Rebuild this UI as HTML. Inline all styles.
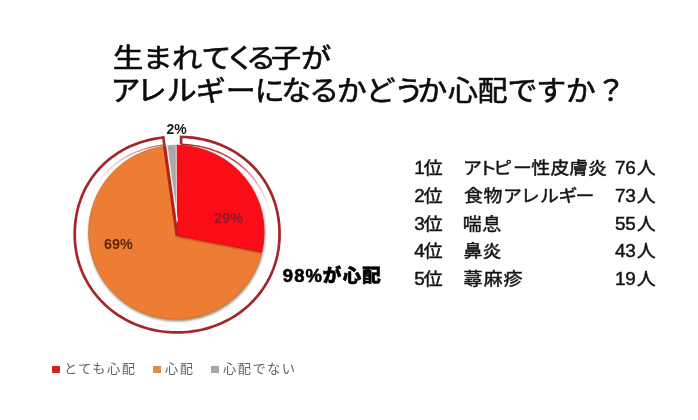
<!DOCTYPE html>
<html lang="ja">
<head>
<meta charset="utf-8">
<title>アレルギー調査</title>
<style>
html,body{margin:0;padding:0;background:#fff;}
body{width:698px;height:420px;position:relative;overflow:hidden;font-family:"Liberation Sans","Noto Sans CJK JP",sans-serif;}
.t{position:absolute;white-space:nowrap;line-height:1;margin:0;}
.lg{font-size:12.6px;color:#626262;letter-spacing:1.4px;transform:scaleX(1.05);transform-origin:0 0;}
.sq{position:absolute;width:7.5px;height:7.5px;}
svg{position:absolute;left:0;top:0;}
</style>
</head>
<body>
<svg width="698" height="420" viewBox="0 0 698 420">
  <defs>
    <linearGradient id="fadeR" gradientUnits="userSpaceOnUse" x1="181" y1="144" x2="268" y2="215">
      <stop offset="0" stop-color="#a3262b" stop-opacity="1"/>
      <stop offset="0.5" stop-color="#c02a34" stop-opacity="0.85"/>
      <stop offset="1" stop-color="#e05060" stop-opacity="0"/>
    </linearGradient>
    <linearGradient id="fadeL" gradientUnits="userSpaceOnUse" x1="164" y1="144" x2="95" y2="190">
      <stop offset="0" stop-color="#c8403a" stop-opacity="0.9"/>
      <stop offset="0.6" stop-color="#e07060" stop-opacity="0.5"/>
      <stop offset="1" stop-color="#f0a090" stop-opacity="0"/>
    </linearGradient>
    <filter id="shO" x="-10%" y="-10%" width="120%" height="120%">
      <feDropShadow dx="0.5" dy="1.7" stdDeviation="1.0" flood-color="#4a3000" flood-opacity="0.6"/>
    </filter>
    <filter id="shR" x="-10%" y="-10%" width="120%" height="120%">
      <feDropShadow dx="0.4" dy="0.8" stdDeviation="0.9" flood-color="#90000c" flood-opacity="0.6"/>
    </filter>
  </defs>
  <path d="M181.1 144.35 L184.73 144.51 L188.26 144.78 L191.73 145.14 L195.14 145.62 L198.49 146.19 L201.79 146.87 L205.05 147.65 L208.25 148.53 L211.4 149.51 L214.49 150.59 L217.53 151.77 L220.51 153.05 L223.43 154.42 L226.29 155.88 L229.08 157.44 L231.81 159.09 L234.46 160.83 L237.05 162.66 L239.55 164.57 L241.98 166.57 L244.34 168.65 L246.6 170.81 L248.79 173.05 L250.89 175.36 L252.9 177.75 L254.82 180.2 L256.64 182.73 L258.38 185.32 L260.01 187.98 L261.55 190.7 L262.99 193.48 L264.33 196.31 L265.57 199.2 L266.7 202.14 L267.73 205.14 L268.66 208.18 L269.47 211.28 L270.18 214.42 L270.78 217.61 L271.28 220.85 L271.66 224.14 L271.93 227.5 L272.1 230.96 L272.15 234.66 L272.09 237.96 L271.92 241.2 L271.63 244.41 L271.23 247.59 L270.73 250.69" fill="none" stroke="url(#fadeR)" stroke-width="1.5"/>
  <path d="M82.15 234.6 L82.21 230.9 L82.37 227.45 L82.65 224.09 L83.03 220.8 L83.53 217.56 L84.13 214.37 L84.84 211.23 L85.66 208.13 L86.58 205.09 L87.61 202.1 L88.75 199.15 L89.99 196.26 L91.33 193.43 L92.77 190.65 L94.31 187.93 L95.95 185.28 L97.69 182.69 L99.51 180.16 L101.43 177.71 L103.45 175.32 L105.55 173.01 L107.73 170.77 L110 168.62 L112.35 166.54 L114.79 164.54 L117.3 162.63 L119.88 160.8 L122.54 159.07 L125.26 157.42 L128.06 155.86 L130.92 154.4 L133.84 153.03 L136.82 151.75 L139.86 150.57 L142.95 149.49 L146.1 148.51 L149.31 147.63 L152.56 146.86 L155.86 146.18 L159.22 145.61 L162.63 145.14 L164.5 144.93" fill="none" stroke="url(#fadeL)" stroke-width="1.2"/>
  <path d="M181.1 144.35 L181.1 136.85 L185.02 137.01 L188.84 137.29 L192.58 137.68 L196.26 138.18 L199.88 138.8 L203.44 139.52 L206.95 140.36 L210.41 141.3 L213.8 142.36 L217.14 143.52 L220.43 144.79 L223.64 146.16 L226.8 147.64 L229.88 149.22 L232.9 150.9 L235.84 152.68 L238.71 154.56 L241.5 156.53 L244.21 158.6 L246.84 160.75 L249.38 163 L251.83 165.33 L254.19 167.75 L256.46 170.24 L258.63 172.82 L260.71 175.48 L262.69 178.21 L264.56 181.01 L266.34 183.88 L268 186.82 L269.56 189.83 L271.02 192.89 L272.36 196.02 L273.59 199.2 L274.71 202.44 L275.71 205.73 L276.6 209.08 L277.37 212.48 L278.03 215.93 L278.57 219.43 L278.99 223 L279.3 226.63 L279.48 230.36 L279.55 234.32 L279.5 237.97 L279.32 241.48 L279.02 244.96 L278.6 248.41 L278.05 251.82 L277.39 255.21 L276.6 258.56 L275.7 261.88 L274.68 265.15 L273.54 268.39 L272.28 271.58 L270.91 274.72 L269.43 277.81 L267.83 280.85 L266.13 283.82 L264.32 286.74 L262.4 289.59 L260.38 292.37 L258.26 295.08 L256.04 297.72 L253.73 300.28 L251.32 302.76 L248.82 305.15 L246.24 307.46 L243.57 309.68 L240.82 311.81 L237.99 313.85 L235.08 315.79 L232.11 317.63 L229.06 319.37 L225.96 321.01 L222.78 322.55 L219.56 323.98 L216.27 325.3 L212.94 326.52 L209.55 327.62 L206.13 328.61 L202.66 329.49 L199.15 330.25 L195.61 330.9 L192.04 331.43 L188.44 331.85 L184.8 332.15 L181.13 332.33 L177.39 332.4 L173.62 332.35 L169.94 332.18 L166.3 331.89 L162.7 331.49 L159.12 330.97 L155.57 330.34 L152.06 329.59 L148.59 328.72 L145.16 327.75 L141.77 326.66 L138.43 325.46 L135.14 324.15 L131.91 322.73 L128.73 321.21 L125.61 319.58 L122.56 317.85 L119.57 316.02 L116.66 314.09 L113.82 312.07 L111.06 309.95 L108.38 307.74 L105.79 305.44 L103.28 303.05 L100.86 300.58 L98.54 298.03 L96.31 295.41 L94.17 292.71 L92.14 289.93 L90.21 287.09 L88.39 284.18 L86.67 281.21 L85.06 278.18 L83.57 275.1 L82.18 271.96 L80.91 268.78 L79.76 265.55 L78.72 262.28 L77.8 258.96 L77 255.62 L76.32 252.23 L75.76 248.82 L75.33 245.38 L75.01 241.91 L74.82 238.4 L74.75 234.83 L74.8 230.83 L74.97 227.08 L75.26 223.44 L75.67 219.86 L76.2 216.35 L76.84 212.9 L77.6 209.49 L78.47 206.14 L79.46 202.84 L80.57 199.59 L81.79 196.4 L83.12 193.27 L84.55 190.19 L86.1 187.18 L87.76 184.24 L89.52 181.36 L91.38 178.54 L93.34 175.81 L95.41 173.14 L97.57 170.55 L99.83 168.04 L102.18 165.62 L104.62 163.28 L107.15 161.02 L109.77 158.85 L112.47 156.78 L115.25 154.79 L118.11 152.9 L121.04 151.11 L124.05 149.42 L127.12 147.83 L130.27 146.34 L133.48 144.95 L136.75 143.67 L140.09 142.49 L143.48 141.43 L146.93 140.47 L150.43 139.62 L153.99 138.88 L157.6 138.25 L161.27 137.73 L163.3 137.5" fill="none" stroke="#a3262b" stroke-width="2.7" stroke-linejoin="miter"/>
  <path d="M163.3 137.5 L164.49 146.03" fill="none" stroke="#a3262b" stroke-width="2.6" stroke-linecap="square"/>
  <g stroke-linejoin="round">
    <path d="M177.0 235.5 L261.82 251.92 A87.8 87.0 0 1 1 164.49 145.99 Z" fill="#ed7d31" stroke="#c9702f" stroke-width="0.7" filter="url(#shO)"/>
    <path d="M177.0 235.5 L164.49 145.99 A87.8 87.0 0 0 1 176.76 145.2 Z" fill="#a9a9a9" stroke="#a0a0a0" stroke-width="0.7"/>
    <path d="M177.0 235.5 L176.76 145.2 A87.8 87.0 0 0 1 261.82 251.92 Z" fill="#fa0c14" stroke="#c90d1a" stroke-width="0.7" filter="url(#shR)"/>
  </g>
  <path d="M176.16 145.5 L176.5 229.5" stroke="#fff" stroke-opacity="0.8" stroke-width="1.1" fill="none"/>
  <path d="M166.79 145.43 L177.4 221.5" fill="none" stroke="#fff" stroke-opacity="0.8" stroke-width="1.5"/>
  <path d="M164.49 146.03 L177.0 235.5" fill="none" stroke="#b8201a" stroke-width="3"/>
  <text transform="scale(1.12,1)" x="100.96 127.21 153.58 179.63 200.89 219.59 242.08 268.72" y="67.65" font-family="Liberation Sans, Noto Sans CJK JP, sans-serif" font-size="27" font-weight="normal" fill="#0c0c0c" stroke="#0c0c0c" stroke-width="0.6">生まれてくる子が</text>
  <text transform="scale(1.05,1)" x="105.24 130.16 158.79 186.47 215.08 242.64 267.9 294.65 320.65 348.32 375.22 397.46 426.56 454.8 483.43 510.71 538.7 567.64" y="101.2" font-family="Liberation Sans, Noto Sans CJK JP, sans-serif" font-size="28.5" font-weight="normal" fill="#0c0c0c" stroke="#0c0c0c" stroke-width="0.6">アレルギーになるかどうか心配ですか？</text>
  <text transform="scale(1.08,1)" x="383.52 392.41" y="174" font-family="Liberation Sans, Noto Sans CJK JP, sans-serif" font-size="17.5" font-weight="normal" fill="#141414" stroke="#141414" stroke-width="0.45">1位</text>
  <text transform="scale(1.08,1)" x="428.76 442.9 456.79 475 492.01 509.62 527.19 544.4" y="174" font-family="Liberation Sans, Noto Sans CJK JP, sans-serif" font-size="17.5" font-weight="normal" fill="#141414" stroke="#141414" stroke-width="0.45">アトピー性皮膚炎</text>
  <text transform="scale(1.08,1)" x="569.35 578.98 589.64" y="174" font-family="Liberation Sans, Noto Sans CJK JP, sans-serif" font-size="17.5" font-weight="normal" fill="#141414" stroke="#141414" stroke-width="0.45">76人</text>
  <text transform="scale(1.08,1)" x="383.52 392.41" y="201.8" font-family="Liberation Sans, Noto Sans CJK JP, sans-serif" font-size="17.5" font-weight="normal" fill="#141414" stroke="#141414" stroke-width="0.45">2位</text>
  <text transform="scale(1.08,1)" x="429.68 447.67 465.8 482.25 499.97 517.2 532.92" y="201.8" font-family="Liberation Sans, Noto Sans CJK JP, sans-serif" font-size="17.5" font-weight="normal" fill="#141414" stroke="#141414" stroke-width="0.45">食物アレルギー</text>
  <text transform="scale(1.08,1)" x="569.35 578.98 589.64" y="201.8" font-family="Liberation Sans, Noto Sans CJK JP, sans-serif" font-size="17.5" font-weight="normal" fill="#141414" stroke="#141414" stroke-width="0.45">73人</text>
  <text transform="scale(1.08,1)" x="383.52 392.41" y="229.6" font-family="Liberation Sans, Noto Sans CJK JP, sans-serif" font-size="17.5" font-weight="normal" fill="#141414" stroke="#141414" stroke-width="0.45">3位</text>
  <text transform="scale(1.08,1)" x="428.45 446.57" y="229.6" font-family="Liberation Sans, Noto Sans CJK JP, sans-serif" font-size="17.5" font-weight="normal" fill="#141414" stroke="#141414" stroke-width="0.45">喘息</text>
  <text transform="scale(1.08,1)" x="569.35 578.98 589.64" y="229.6" font-family="Liberation Sans, Noto Sans CJK JP, sans-serif" font-size="17.5" font-weight="normal" fill="#141414" stroke="#141414" stroke-width="0.45">55人</text>
  <text transform="scale(1.08,1)" x="383.52 392.41" y="257.4" font-family="Liberation Sans, Noto Sans CJK JP, sans-serif" font-size="17.5" font-weight="normal" fill="#141414" stroke="#141414" stroke-width="0.45">4位</text>
  <text transform="scale(1.08,1)" x="429.21 446.85" y="257.4" font-family="Liberation Sans, Noto Sans CJK JP, sans-serif" font-size="17.5" font-weight="normal" fill="#141414" stroke="#141414" stroke-width="0.45">鼻炎</text>
  <text transform="scale(1.08,1)" x="569.35 578.98 589.64" y="257.4" font-family="Liberation Sans, Noto Sans CJK JP, sans-serif" font-size="17.5" font-weight="normal" fill="#141414" stroke="#141414" stroke-width="0.45">43人</text>
  <text transform="scale(1.08,1)" x="383.52 392.41" y="285.2" font-family="Liberation Sans, Noto Sans CJK JP, sans-serif" font-size="17.5" font-weight="normal" fill="#141414" stroke="#141414" stroke-width="0.45">5位</text>
  <text transform="scale(1.08,1)" x="429.21 448.01 466.24" y="285.2" font-family="Liberation Sans, Noto Sans CJK JP, sans-serif" font-size="17.5" font-weight="normal" fill="#141414" stroke="#141414" stroke-width="0.45">蕁麻疹</text>
  <text transform="scale(1.08,1)" x="569.35 578.98 589.64" y="285.2" font-family="Liberation Sans, Noto Sans CJK JP, sans-serif" font-size="17.5" font-weight="normal" fill="#141414" stroke="#141414" stroke-width="0.45">19人</text>
  <text transform="scale(1,1)" x="282.73 294.33 305.4 322.65 342.7 362.32" y="281.6" font-family="Liberation Sans, Noto Sans CJK JP, sans-serif" font-size="18.5" font-weight="900" fill="#000" stroke="#000" stroke-width="0.55">98%が心配</text>
  <text x="166.6" y="134.3" font-family="Liberation Sans, sans-serif" font-weight="bold" font-size="14.6" fill="#1c1c1c" textLength="20.2" lengthAdjust="spacingAndGlyphs">2%</text>
  <text x="214.3" y="223.3" font-family="Liberation Sans, sans-serif" font-weight="bold" font-size="14.3" fill="#8f1830">29%</text>
  <text x="104" y="249.3" font-family="Liberation Sans, sans-serif" font-weight="bold" font-size="14.3" fill="#5c2408">69%</text>
</svg>


<div class="sq" style="left:52px;top:365.5px;background:#cf2222;"></div><div class="t lg" style="left:64.3px;top:362.7px;">とても心配</div>
<div class="sq" style="left:153.3px;top:365.5px;background:#e48a42;"></div><div class="t lg" style="left:165.2px;top:362.7px;">心配</div>
<div class="sq" style="left:211.2px;top:365.5px;background:#a8a8a8;"></div><div class="t lg" style="left:222.8px;top:362.7px;">心配でない</div>
</body>
</html>
